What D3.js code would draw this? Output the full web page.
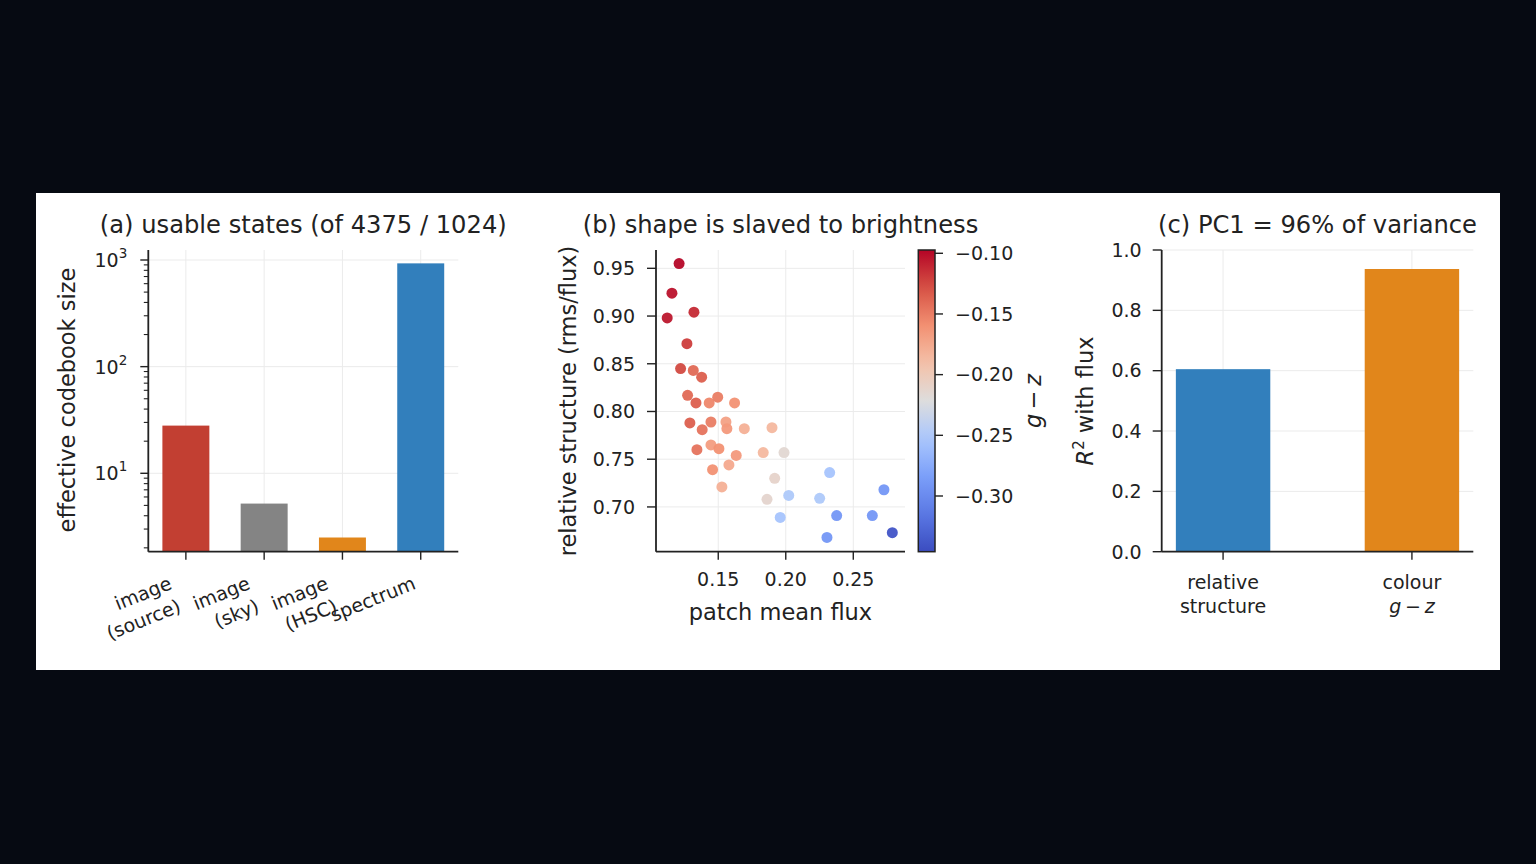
<!DOCTYPE html>
<html>
<head>
<meta charset="utf-8">
<script src="https://cdn.jsdelivr.net/npm/d3@7"></script>
<style>
  html, body { margin: 0; padding: 0; background: #060a12; }
  svg { display: block; }
  text { font-family: "DejaVu Sans", sans-serif; fill: #222; }
</style>
</head>
<body>
<svg id="chart" width="1536" height="864"></svg>
<script>
// ---------------- data ----------------
// (a) usable states
const codebookCats = [["image", "(source)"], ["image", "(sky)"], ["image", "(HSC)"], ["spectrum"]];
const codebookSize = [28, 5.2, 2.5, 930];
const codebookTicks = [10, 100, 1000];

// (b) scatter: patch mean flux, relative structure, colour g - z
const patchFlux = [0.121, 0.1157, 0.1122, 0.132, 0.1268, 0.1221, 0.1315, 0.1377, 0.1273, 0.1335,
  0.1433, 0.1496, 0.1621, 0.129, 0.1381, 0.1446, 0.1557, 0.1564, 0.1693, 0.1898,
  0.1342, 0.1446, 0.1505, 0.1633, 0.1833, 0.1987, 0.1458, 0.1579, 0.1527, 0.1918,
  0.1861, 0.2022, 0.1959, 0.2325, 0.2251, 0.2377, 0.2305, 0.2727, 0.2641, 0.2789];
const relStructure = [0.955, 0.924, 0.898, 0.904, 0.871, 0.845, 0.843, 0.836, 0.817, 0.809,
  0.809, 0.815, 0.809, 0.788, 0.781, 0.789, 0.789, 0.782, 0.782, 0.783,
  0.760, 0.765, 0.761, 0.754, 0.757, 0.757, 0.739, 0.744, 0.721, 0.730,
  0.708, 0.712, 0.689, 0.736, 0.709, 0.691, 0.668, 0.718, 0.691, 0.673];
const colourGZ = [-0.098, -0.103, -0.105, -0.112, -0.12, -0.125, -0.14, -0.135, -0.14, -0.135,
  -0.155, -0.15, -0.16, -0.135, -0.145, -0.15, -0.17, -0.165, -0.18, -0.185,
  -0.145, -0.168, -0.16, -0.165, -0.185, -0.215, -0.16, -0.175, -0.18, -0.21,
  -0.212, -0.25, -0.255, -0.255, -0.25, -0.29, -0.29, -0.29, -0.29, -0.34];
const fluxTicks = [0.15, 0.20, 0.25];
const structTicks = [0.70, 0.75, 0.80, 0.85, 0.90, 0.95];
const gzTicks = [-0.30, -0.25, -0.20, -0.15, -0.10];

// (c) R^2 with flux
const r2Cats = [["relative", "structure"], ["colour", "g\u2009\u2212\u2009z"]];
const r2Values = [0.605, 0.937];
const r2Ticks = [0.0, 0.2, 0.4, 0.6, 0.8, 1.0];

// ---------------- style ----------------
const barColorsA = ["#c0392b", "#808080", "#e08214", "#2b7bba"];
const barColorsC = ["#2b7bba", "#e08214"];
const TICK_FS = 19, LABEL_FS = 22.5, TITLE_FS = 24.2;
const GRID = "#ebebeb";
const INK = "#222";

const svg = d3.select("#chart");
svg.append("rect").attr("x", 36).attr("y", 193).attr("width", 1464).attr("height", 477).attr("fill", "#ffffff");

const TOP = 250, BOT = 551.7;

// coolwarm colormap
const coolwarm = d3.scaleLinear()
  .domain([0, 0.125, 0.25, 0.375, 0.5, 0.625, 0.75, 0.875, 1])
  .range(["#3b4cc0", "#5a78e4", "#7b9ff9", "#aac7fd", "#dddddd", "#f5c1a9", "#f29072", "#d65244", "#b40426"])
  .interpolate(d3.interpolateRgb);

function fmt(v, d) { return v.toFixed(d).replace("-", "\u2212"); }

function leftAxisTicks(g, x0, scale, ticks, labelFn, len) {
  ticks.forEach(t => {
    const y = scale(t);
    g.append("line").attr("x1", x0 - len).attr("x2", x0).attr("y1", y).attr("y2", y)
      .attr("stroke", INK).attr("stroke-width", 1.4);
    if (labelFn) labelFn(t, y);
  });
}

// ================= Panel (a) =================
{
  const x0 = 148.3, x1 = 458.3;
  const xA = d3.scaleLinear().domain([-0.48, 3.48]).range([x0, x1]);
  const yA = d3.scaleLog().domain([1.84, 1241]).range([BOT, TOP]);
  const g = svg.append("g");

  codebookTicks.forEach(t => g.append("line").attr("x1", x0).attr("x2", x1)
    .attr("y1", yA(t)).attr("y2", yA(t)).attr("stroke", GRID).attr("stroke-width", 1));
  codebookSize.forEach((v, i) => g.append("line").attr("x1", xA(i)).attr("x2", xA(i))
    .attr("y1", TOP).attr("y2", BOT).attr("stroke", GRID).attr("stroke-width", 1));

  g.selectAll("rect.bar").data(codebookSize).enter().append("rect")
    .attr("x", (d, i) => xA(i - 0.3))
    .attr("width", xA(0.3) - xA(-0.3))
    .attr("y", d => yA(d))
    .attr("height", d => BOT - yA(d))
    .attr("fill", (d, i) => barColorsA[i])
    .attr("fill-opacity", 0.97);

  const minor = [];
  [1, 10, 100, 1000].forEach(dec => { for (let k = 2; k <= 9; k++) { const v = dec * k; if (v >= 1.84 && v <= 1241) minor.push(v); } });
  minor.forEach(v => g.append("line").attr("x1", x0 - 4.5).attr("x2", x0).attr("y1", yA(v)).attr("y2", yA(v))
    .attr("stroke", INK).attr("stroke-width", 1.1));
  leftAxisTicks(g, x0, yA, codebookTicks, (t, y) => {
    const tx = g.append("text").attr("x", x0 - 21).attr("y", y + 7).attr("text-anchor", "end")
      .attr("font-size", TICK_FS);
    tx.append("tspan").text("10");
    tx.append("tspan").attr("dy", -9).attr("font-size", 13.5).text(String(Math.round(Math.log10(t))));
  }, 8);

  const theta = 22, rad = theta * Math.PI / 180;
  const lh = 24.5, asc = 0.93 * TICK_FS, desc = 0.24 * TICK_FS;
  const yTop = 572;
  codebookCats.forEach((lines, i) => {
    const xt = xA(i);
    g.append("line").attr("x1", xt).attr("x2", xt).attr("y1", BOT).attr("y2", BOT + 8)
      .attr("stroke", INK).attr("stroke-width", 1.4);
    const H = (lines.length - 1) * lh + asc + desc;
    const lg = g.append("g").attr("transform", `translate(${xt - 2},${yTop + H * Math.cos(rad)}) rotate(${-theta})`);
    lines.forEach((s, j) => {
      lg.append("text").attr("x", 0).attr("y", -desc - (lines.length - 1 - j) * lh)
        .attr("text-anchor", "end").attr("font-size", TICK_FS).text(s);
    });
  });

  g.append("line").attr("x1", x0).attr("x2", x0).attr("y1", TOP).attr("y2", BOT).attr("stroke", INK).attr("stroke-width", 1.8);
  g.append("line").attr("x1", x0).attr("x2", x1).attr("y1", BOT).attr("y2", BOT).attr("stroke", INK).attr("stroke-width", 1.8);

  g.append("text").attr("transform", "translate(75,400) rotate(-90)").attr("text-anchor", "middle")
    .attr("font-size", LABEL_FS).text("effective codebook size");
  g.append("text").attr("x", (x0 + x1) / 2).attr("y", 233).attr("text-anchor", "middle")
    .attr("font-size", TITLE_FS).text("(a) usable states (of 4375 / 1024)");
}

// ================= Panel (b) =================
{
  const x0 = 656, x1 = 905;
  const xB = d3.scaleLinear().domain([0.1039, 0.2883]).range([x0, x1]);
  const yB = d3.scaleLinear().domain([0.6531, 0.9692]).range([BOT, TOP]);
  const cDomain = [-0.3459, -0.0973];
  const cNorm = d3.scaleLinear().domain(cDomain).range([0, 1]);
  const g = svg.append("g");

  fluxTicks.forEach(t => g.append("line").attr("x1", xB(t)).attr("x2", xB(t)).attr("y1", TOP).attr("y2", BOT)
    .attr("stroke", GRID).attr("stroke-width", 1));
  structTicks.forEach(t => g.append("line").attr("x1", x0).attr("x2", x1).attr("y1", yB(t)).attr("y2", yB(t))
    .attr("stroke", GRID).attr("stroke-width", 1));

  const pts = patchFlux.map((f, i) => ({ f, s: relStructure[i], c: colourGZ[i] }));
  g.selectAll("circle").data(pts).enter().append("circle")
    .attr("cx", d => xB(d.f)).attr("cy", d => yB(d.s)).attr("r", 5.5)
    .attr("fill", d => coolwarm(cNorm(d.c))).attr("fill-opacity", 0.95);

  leftAxisTicks(g, x0, yB, structTicks, (t, y) => {
    g.append("text").attr("x", x0 - 21).attr("y", y + 6.8).attr("text-anchor", "end")
      .attr("font-size", TICK_FS).text(fmt(t, 2));
  }, 9);
  fluxTicks.forEach(t => {
    const x = xB(t);
    g.append("line").attr("x1", x).attr("x2", x).attr("y1", BOT).attr("y2", BOT + 8).attr("stroke", INK).attr("stroke-width", 1.4);
    g.append("text").attr("x", x).attr("y", 586).attr("text-anchor", "middle").attr("font-size", TICK_FS).text(fmt(t, 2));
  });

  g.append("line").attr("x1", x0).attr("x2", x0).attr("y1", TOP).attr("y2", BOT).attr("stroke", INK).attr("stroke-width", 1.8);
  g.append("line").attr("x1", x0).attr("x2", x1).attr("y1", BOT).attr("y2", BOT).attr("stroke", INK).attr("stroke-width", 1.8);

  g.append("text").attr("x", (x0 + x1) / 2).attr("y", 620).attr("text-anchor", "middle")
    .attr("font-size", LABEL_FS).text("patch mean flux");
  g.append("text").attr("transform", "translate(576,401) rotate(-90)").attr("text-anchor", "middle")
    .attr("font-size", LABEL_FS).text("relative structure (rms/flux)");
  g.append("text").attr("x", (x0 + x1) / 2).attr("y", 233).attr("text-anchor", "middle")
    .attr("font-size", TITLE_FS).text("(b) shape is slaved to brightness");

  // colorbar
  const cbx0 = 918.3, cbx1 = 935;
  const yC = d3.scaleLinear().domain(cDomain).range([BOT, TOP]);
  const defs = svg.append("defs");
  const grad = defs.append("linearGradient").attr("id", "cw").attr("x1", 0).attr("y1", 1).attr("x2", 0).attr("y2", 0);
  d3.range(0, 1.0001, 0.05).forEach(o => grad.append("stop").attr("offset", o).attr("stop-color", coolwarm(o)));
  g.append("rect").attr("x", cbx0).attr("y", TOP).attr("width", cbx1 - cbx0).attr("height", BOT - TOP)
    .attr("fill", "url(#cw)").attr("stroke", INK).attr("stroke-width", 1.5);
  gzTicks.forEach(t => {
    const y = yC(t);
    g.append("line").attr("x1", cbx1).attr("x2", cbx1 + 8).attr("y1", y).attr("y2", y).attr("stroke", INK).attr("stroke-width", 1.4);
    g.append("text").attr("x", 955).attr("y", y + 6.8).attr("font-size", TICK_FS).text(fmt(t, 2));
  });
  const cl = g.append("text").attr("transform", "translate(1041,401) rotate(-90)").attr("text-anchor", "middle")
    .attr("font-size", LABEL_FS);
  cl.append("tspan").attr("font-style", "italic").text("g");
  cl.append("tspan").text("\u2009\u2212\u2009");
  cl.append("tspan").attr("font-style", "italic").text("z");
}

// ================= Panel (c) =================
{
  const x0 = 1161.7, x1 = 1473.3;
  const xC = d3.scaleLinear().domain([-0.325, 1.325]).range([x0, x1]);
  const yC = d3.scaleLinear().domain([0, 1]).range([BOT, TOP]);
  const g = svg.append("g");

  r2Ticks.forEach(t => g.append("line").attr("x1", x0).attr("x2", x1).attr("y1", yC(t)).attr("y2", yC(t))
    .attr("stroke", GRID).attr("stroke-width", 1));
  r2Values.forEach((v, i) => g.append("line").attr("x1", xC(i)).attr("x2", xC(i)).attr("y1", TOP).attr("y2", BOT)
    .attr("stroke", GRID).attr("stroke-width", 1));

  g.selectAll("rect.bar").data(r2Values).enter().append("rect")
    .attr("x", (d, i) => xC(i - 0.25)).attr("width", xC(0.25) - xC(-0.25))
    .attr("y", d => yC(d)).attr("height", d => BOT - yC(d))
    .attr("fill", (d, i) => barColorsC[i]).attr("fill-opacity", 0.97);

  leftAxisTicks(g, x0, yC, r2Ticks, (t, y) => {
    g.append("text").attr("x", x0 - 20).attr("y", y + 6.8).attr("text-anchor", "end")
      .attr("font-size", TICK_FS).text(fmt(t, 1));
  }, 9);

  r2Cats.forEach((lines, i) => {
    const x = xC(i);
    g.append("line").attr("x1", x).attr("x2", x).attr("y1", BOT).attr("y2", BOT + 8).attr("stroke", INK).attr("stroke-width", 1.4);
    lines.forEach((s, j) => {
      const t = g.append("text").attr("x", x).attr("y", 589 + j * 24).attr("text-anchor", "middle").attr("font-size", TICK_FS);
      if (s.includes("\u2212")) {
        const parts = s.split("\u2009\u2212\u2009");
        t.append("tspan").attr("font-style", "italic").text(parts[0]);
        t.append("tspan").text("\u2009\u2212\u2009");
        t.append("tspan").attr("font-style", "italic").text(parts[1]);
      } else t.text(s);
    });
  });

  g.append("line").attr("x1", x0).attr("x2", x0).attr("y1", TOP).attr("y2", BOT).attr("stroke", INK).attr("stroke-width", 1.8);
  g.append("line").attr("x1", x0).attr("x2", x1).attr("y1", BOT).attr("y2", BOT).attr("stroke", INK).attr("stroke-width", 1.8);

  const yl = g.append("text").attr("transform", "translate(1093,401) rotate(-90)").attr("text-anchor", "middle")
    .attr("font-size", LABEL_FS);
  yl.append("tspan").attr("font-style", "italic").text("R");
  yl.append("tspan").attr("dy", -9).attr("font-size", 15).text("2");
  yl.append("tspan").attr("dy", 9).text(" with flux");
  g.append("text").attr("x", 1317.5).attr("y", 233).attr("text-anchor", "middle")
    .attr("font-size", TITLE_FS).text("(c) PC1 = 96% of variance");
}
</script>
</body>
</html>
